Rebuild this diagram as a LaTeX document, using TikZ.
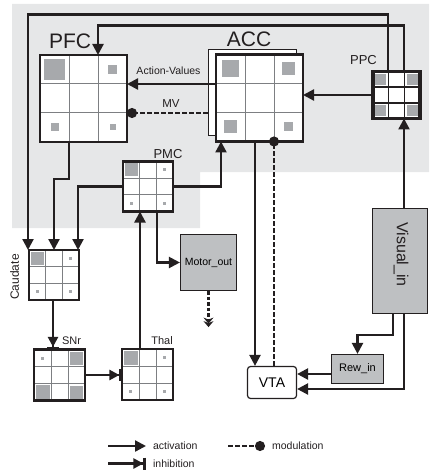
\documentclass[tikz,border=0pt]{standalone}
\usepackage{fontspec}
\setmainfont{Liberation Sans}
\usepackage{tikz}
\usetikzlibrary{arrows.meta,calc,positioning}

\definecolor{ink}{RGB}{35,31,32}
\definecolor{bggray}{RGB}{230,231,232}
\definecolor{cellgray}{RGB}{167,169,172}
\definecolor{boxgray}{RGB}{190,192,194}
\definecolor{linegray}{RGB}{125,127,130}

\def\ppb{path picture bounding box}
% inner lines of a 3x3 grid
\newcommand{\gridin}[1]{%
	\draw[#1] ($(\ppb.north west)!1/3!(\ppb.north east)$) -- ($(\ppb.south west)!1/3!(\ppb.south east)$);
	\draw[#1] ($(\ppb.north west)!2/3!(\ppb.north east)$) -- ($(\ppb.south west)!2/3!(\ppb.south east)$);
	\draw[#1] ($(\ppb.north west)!1/3!(\ppb.south west)$) -- ($(\ppb.north east)!1/3!(\ppb.south east)$);
	\draw[#1] ($(\ppb.north west)!2/3!(\ppb.south west)$) -- ($(\ppb.north east)!2/3!(\ppb.south east)$);}
% filled square: node, cell size, column, row, square size
\newcommand{\sq}[5]{%
	\fill[cellgray] ($(#1)+({(#3-1)*#2-#5/2},{(#4-1)*#2-#5/2})$) rectangle ++(#5,#5);}
\newcommand{\fs}[1]{\fontsize{#1}{#1}\selectfont}

\begin{document}
\begin{tikzpicture}[
            x = 1pt, y = -1pt, % pixel grid, y down
            act/.style = {-{Triangle[length=11pt,width=11pt]}}, % activation
            inh/.style = {-{Triangle[length=10pt,width=10pt]Bar[width=12pt,line width=2.6pt]}}, % inhibition
            modul/.style = {dash pattern=on 4.5pt off 2.5pt, -{Circle[length=10pt]}}, % modulation
            grid/.style = {draw=ink, line width=2.3pt, fill=white, minimum size=#1,
                inner sep=0pt, outer sep=0pt, path picture={\gridin{linegray,line width=1pt}}},
            ppcgrid/.style = {draw=ink, line width=3.2pt, fill=white, minimum size=#1,
                inner sep=0pt, outer sep=0pt, path picture={\gridin{ink,line width=1.5pt}}},
            iobox/.style = {draw=ink, line width=1.2pt, fill=boxgray, inner sep=0pt},
            lbl/.style = {text=ink, inner sep=0pt},
            legtext/.style = {text=ink, inner xsep=6pt, inner ysep=0pt, font=\fs{10.5}},
            line width = 2.3pt, draw = ink, % line style
            shorten > = 0pt
        ]
	\useasboundingbox (0,0) rectangle (429,473);
	\fill[bggray] (12,4) -- (429,4) -- (429,172) -- (200,172) -- (200,228) -- (12,228) -- cycle;

	\node[grid=87pt] (PFC) at (83.5,98.5) {};
	\node[draw=ink, line width=1.4pt, fill=white, minimum width=88pt, minimum height=86pt] (ACCb) at (252.5,92.5) {};
	\node[grid=87pt] (ACC) at (259.5,98) {};
	\node[ppcgrid=47pt] (PPC) at (396.5,95) {};
	\node[grid=50pt] (PMC) at (148,186.5) {};
	\node[grid=50pt] (Caud) at (54,275) {};
	\node[grid=51pt] (SNr) at (59.5,375) {};
	\node[grid=51pt] (Thal) at (147.5,374.5) {};
	\node[iobox, minimum width=56pt, minimum height=56pt, font=\fs{10.5}] (Motor) at (208.5,262.5) {Motor\_out};
	\node[iobox, minimum width=55pt, minimum height=105pt] (Vis) at (400,261) {};
	\node[iobox, minimum width=52pt, minimum height=29pt, font=\fs{11}] (Rew) at (357.5,369) {Rew\_in};
	\node[draw=ink, line width=1.2pt, fill=white, rounded corners=3pt, minimum width=49pt,
		minimum height=32pt, font=\fs{14}] (VTA) at (272,382.5) {VTA};

	\sq{PFC}{29}{0}{0}{21} \sq{PFC}{29}{2}{0}{9} \sq{PFC}{29}{0}{2}{8} \sq{PFC}{29}{2}{2}{6}
	\sq{ACC}{29}{0}{0}{17} \sq{ACC}{29}{2}{0}{13} \sq{ACC}{29}{0}{2}{13} \sq{ACC}{29}{2}{2}{9}
	\sq{PPC}{15.67}{0}{0}{11} \sq{PPC}{15.67}{2}{0}{11} \sq{PPC}{15.67}{0}{2}{11} \sq{PPC}{15.67}{2}{2}{11}
	\sq{PMC}{16.67}{0}{0}{13} \sq{PMC}{16.67}{2}{0}{3} \sq{PMC}{16.67}{0}{2}{3} \sq{PMC}{16.67}{2}{2}{3}
	\sq{Caud}{16.67}{0}{0}{13} \sq{Caud}{16.67}{2}{0}{3} \sq{Caud}{16.67}{0}{2}{3} \sq{Caud}{16.67}{2}{2}{3}
	\sq{SNr}{17}{0}{0}{3} \sq{SNr}{17}{2}{0}{13} \sq{SNr}{17}{0}{2}{14} \sq{SNr}{17}{2}{2}{13}
	\sq{Thal}{17}{0}{0}{14} \sq{Thal}{17}{2}{0}{3} \sq{Thal}{17}{0}{2}{3} \sq{Thal}{17}{2}{2}{3}

	\node[lbl, font=\fs{21}] (lPFC) at (70,41.5) {PFC};
	\node[lbl, font=\fs{21}] (lACC) at (249,39.5) {ACC};
	\node[lbl, font=\fs{13}] (lPPC) at (363.5,60.5) {PPC};
	\node[lbl, font=\fs{13}] (lPMC) at (168,154) {PMC};
	\node[lbl, font=\fs{10.5}] (lAV) at (168.5,70.5) {Action-Values};
	\node[lbl, font=\fs{11.5}] (lMV) at (171,103.5) {MV};
	\node[lbl, font=\fs{12}, rotate=90] (lCaud) at (14.5,277) {Caudate};
	\node[lbl, font=\fs{11}] (lSNr) at (71.5,340.5) {SNr};
	\node[lbl, font=\fs{11}] (lThal) at (162,340.5) {Thal};
	\node[lbl, font=\fs{16}, rotate=-90] (lVis) at (401,254.5) {Visual\_in};

	\coordinate (av) at ([yshift=14pt]ACC.west);
	\coordinate (mv) at ([yshift=-15pt]ACC.west);
	\coordinate (rw) at ([yshift=-5pt]Rew.west);

	\draw[act] ([xshift=-8.5pt]PPC.north) -- ++(0,-57) -| ([xshift=-1pt]Caud.north west);
	\draw[act] ([xshift=7.5pt]PPC.north) -- ++(0,-46) -| ([xshift=14.5pt]PFC.north);
	\draw[act] (av) -- (av -| PFC.east);
	\draw[modul] (mv -| ACCb.west) -- (mv -| PFC.east);
	\draw[act] (PPC.west) -- (PPC.west -| ACC.east);
	\draw[act] ([xshift=-14.5pt]PFC.south) -- ++(0,37) -| (Caud.north);
	\draw[act] (PMC.west) -| ([xshift=-1pt]Caud.north east);
	\draw[act] (PMC.east) -| ([xshift=-38.5pt]ACC.south);
	\draw[act] ([xshift=-7.5pt]Thal.north) -- ([xshift=-7.5pt]Thal.north |- PMC.south);
	\draw[act] ([xshift=9pt]PMC.south) |- (Motor.west);
	\draw[dash pattern=on 3.5pt off 2pt, -{Stealth[length=6pt,width=10pt,sep=-2.5pt]Stealth[length=6pt,width=10pt]}] (Motor.south) -- ++(0,36);
	\draw[inh] ([xshift=-1pt]Caud.south) -- ([xshift=-1pt]Caud.south |- SNr.north);
	\draw[inh] (SNr.east) -- (SNr.east -| Thal.west);
	\draw[act] ([xshift=-4.5pt]ACC.south) -- ([xshift=-4.5pt]ACC.south |- VTA.north);
	\draw[modul, shorten >=-5pt] ([xshift=2pt]VTA.north) -- ([xshift=2pt]VTA.north |- ACC.south);
	\draw[act] ([xshift=4pt]Vis.north) -- ([xshift=4pt]Vis.north |- PPC.south);
	\draw[act] ([xshift=-7pt]Vis.south) -- ++(0,21) -| (Rew.north);
	\draw[act] (rw) -- (rw -| VTA.east);
	\draw[act] ([xshift=4pt]Vis.south) |- ([yshift=-6.5pt]VTA.east);

	% legend
	\coordinate (la) at (108,446);
	\coordinate (li) at (108,463.5);
	\coordinate (lm) at (228,446);
	\node[legtext, anchor=west] (lact) at (146,446) {activation};
	\node[legtext, anchor=west] (linh) at (146,463.5) {inhibition};
	\node[legtext, anchor=west] (lmod) at (265,446) {modulation};
	\draw[act] (la) -- (lact);
	\draw[inh] (li) -- (linh);
	\draw[modul] (lm) -- (lmod);
\end{tikzpicture}
\end{document}
